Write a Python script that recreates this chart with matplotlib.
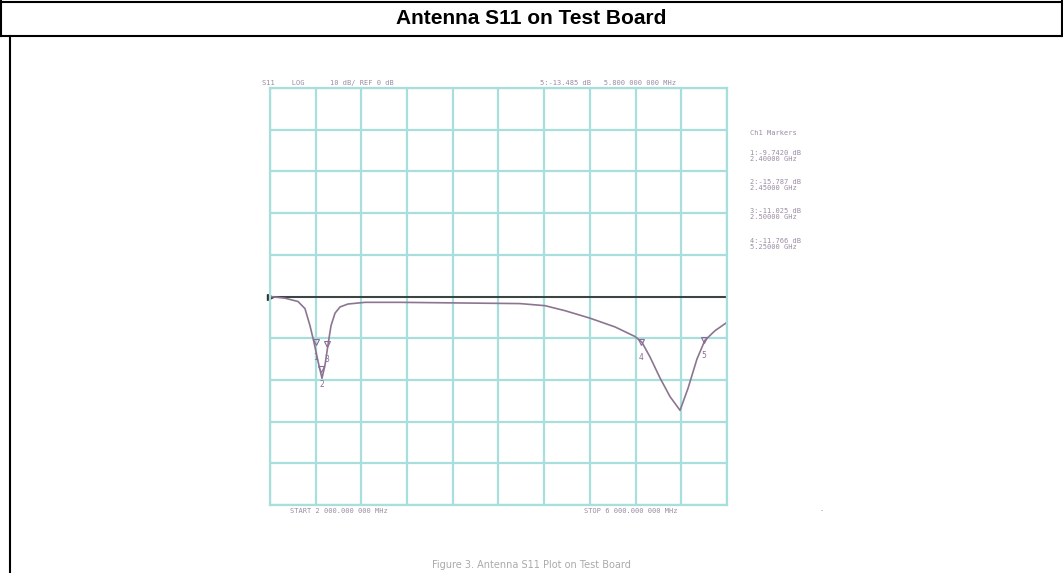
import matplotlib
matplotlib.use("Agg")
import matplotlib.pyplot as plt
from matplotlib.lines import Line2D
import numpy as np

# trace (GHz, dB)
freq_ghz = [2.000, 2.131, 2.245, 2.306, 2.350, 2.385, 2.420, 2.455, 2.481, 2.508,
            2.534, 2.569, 2.613, 2.683, 2.832, 3.138, 3.488, 3.838, 4.188, 4.407,
            4.582, 4.801, 5.020, 5.195, 5.256, 5.326, 5.413, 5.501, 5.589, 5.659,
            5.737, 5.807, 5.895, 6.000]
s11_db = [0.0, -0.4, -1.2, -2.9, -7.0, -11.0, -15.5, -19.6, -16.5, -11.5,
          -7.0, -4.0, -2.5, -1.8, -1.4, -1.4, -1.5, -1.6, -1.7, -2.2,
          -3.4, -5.2, -7.3, -9.6, -11.0, -14.5, -19.5, -24.0, -27.3, -22.0,
          -15.0, -10.5, -8.2, -6.2]

marker_ids = ["1", "2", "3", "4", "5"]
marker_freq = [2.40, 2.45, 2.50, 5.25, 5.80]
marker_db = [-11.0, -17.5, -11.5, -11.0, -10.5]

marker_list = ["Ch1 Markers",
               "1:-9.7420 dB\n2.40000 GHz",
               "2:-15.787 dB\n2.45000 GHz",
               "3:-11.025 dB\n2.50000 GHz",
               "4:-11.766 dB\n5.25000 GHz"]

W, H = 1063, 573
fig = plt.figure(figsize=(W / 100, H / 100), dpi=100)
fig.patch.set_facecolor("white")

def px(x, y):
    return x / W, 1 - y / H

# page frame
fig.add_artist(Line2D([0, 1], [1 - 1.5 / H, 1 - 1.5 / H], color="black", lw=1.5))
fig.add_artist(Line2D([0, 1], [1 - 36 / H, 1 - 36 / H], color="black", lw=1.5))
fig.add_artist(Line2D([10 / W, 10 / W], [0, 1 - 36 / H], color="black", lw=1.5))
fig.add_artist(Line2D([1 / W, 1 / W], [1 - 36 / H, 1], color="black", lw=1.5))
fig.add_artist(Line2D([1 - 1.5 / W, 1 - 1.5 / W], [1 - 36 / H, 1], color="black", lw=1.5))
fig.text(0.5, 1 - 18 / H, "Antenna S11 on Test Board", ha="center", va="center",
         fontsize=15, fontweight="bold", fontstretch="condensed",
         family=["Liberation Sans Narrow", "Liberation Sans"])

# analyser screen
ax = fig.add_axes([270 / W, (H - 505) / H, 457 / W, 417 / H])
ax.set_xlim(2.0, 6.0)
ax.set_ylim(-50, 50)
ax.set_xticks(np.linspace(2.0, 6.0, 11))
ax.set_yticks(np.linspace(-50, 50, 11))
ax.grid(True, color="#a8dedb", lw=1.6)
ax.tick_params(length=0, labelbottom=False, labelleft=False)
for s in ax.spines.values():
    s.set_color("#a8dedb")
    s.set_linewidth(1.6)

ax.axhline(0, color="#333333", lw=1.3)
ax.plot([2.0], [0], marker=">", color="#333333", ms=5, clip_on=False)
ax.plot(freq_ghz, s11_db, color="#8c7591", lw=1.2)

for mid, f, d in zip(marker_ids, marker_freq, marker_db):
    ax.plot([f], [d], marker="v", color="#8c6a96", ms=4, mfc="none", mew=0.8)
    ax.text(f, d - 2.5, mid, color="#8c6a96", fontsize=5.5, ha="center", va="top")

ttxt = dict(color="#9b8aa3", fontsize=5, family="DejaVu Sans Mono")
fig.text(*px(262, 83), "S11    LOG      10 dB/ REF 0 dB", va="center", **ttxt)
fig.text(*px(540, 83), "5:-13.485 dB   5.800 000 000 MHz", va="center", **ttxt)
fig.text(*px(290, 511), "START 2 000.000 000 MHz", va="center", **ttxt)
fig.text(*px(584, 511), "STOP 6 000.000 000 MHz", va="center", **ttxt)
fig.text(*px(820, 510), "-", va="center", **ttxt)

ys = [130, 150, 179, 208, 238]
for t, y in zip(marker_list, ys):
    fig.text(*px(750, y), t, va="top", linespacing=1.0, **ttxt)

# faint caption at page bottom
fig.text(0.5, 1 - 565 / H, "Figure 3. Antenna S11 Plot on Test Board", ha="center",
         va="center", color="#aaaaaa", fontsize=7)

fig.savefig("out.png", dpi=100)
